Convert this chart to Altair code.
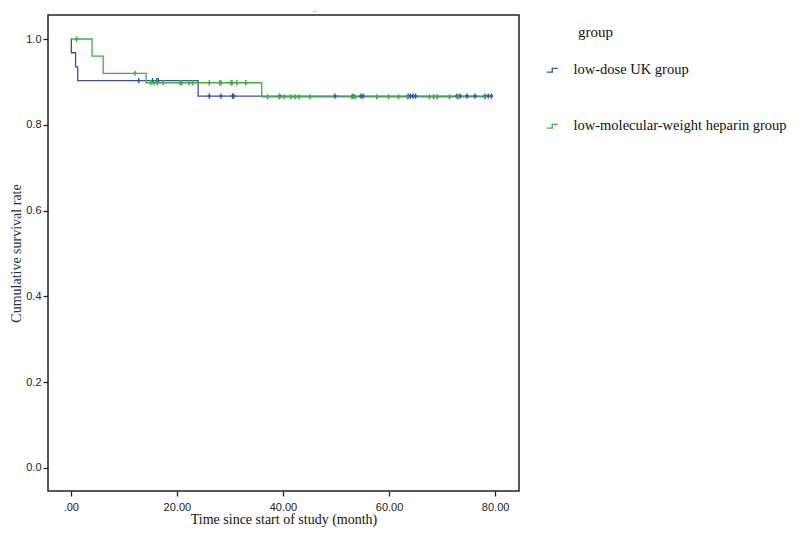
import altair as alt
import pandas as pd

groups = ["low-dose UK group", "low-molecular-weight heparin group"]
colors = ["#3a4bbf", "#3cb043"]

# Kaplan-Meier step points (time, survival)
uk_times = [0.0, 0.1, 0.9, 1.3, 24.0, 79.6]
uk_surv = [1.0, 0.968, 0.935, 0.903, 0.867, 0.867]
lmwh_times = [0.0, 4.0, 6.1, 14.2, 36.0, 78.3]
lmwh_surv = [1.0, 0.960, 0.920, 0.898, 0.865, 0.865]

# censored observation times
uk_censor = [12.8, 15.4, 16.2, 16.5, 26.1, 28.3, 30.5, 30.7, 39.4, 49.8, 53.2, 54.7,
             55.1, 63.6, 64.0, 64.5, 65.0, 72.8, 73.4, 74.7, 76.2, 78.1, 78.7, 79.3]
lmwh_censor = [1.1, 12.1, 15.1, 15.7, 16.3, 17.4, 20.6, 20.9, 22.3, 23.0, 26.1, 28.1,
               28.3, 30.2, 30.4, 31.3, 33.0, 37.1, 39.3, 40.2, 41.5, 42.3, 43.0, 45.1,
               53.0, 53.6, 57.7, 59.9, 61.8, 63.5, 67.6, 68.4, 69.1, 71.4, 73.0, 78.1]

x_ticks = [0, 20, 40, 60, 80]
y_ticks = [0.0, 0.2, 0.4, 0.6, 0.8, 1.0]


def surv_at(times, surv, t):
    s = surv[0]
    for ti, si in zip(times, surv):
        if ti <= t:
            s = si
    return s


rows = []
for g, ts, ss in [(groups[0], uk_times, uk_surv), (groups[1], lmwh_times, lmwh_surv)]:
    for t, s in zip(ts, ss):
        rows.append({"group": g, "t": t, "s": s})
steps = pd.DataFrame(rows)

crows = []
for g, ts, ss, cs in [(groups[0], uk_times, uk_surv, uk_censor),
                      (groups[1], lmwh_times, lmwh_surv, lmwh_censor)]:
    for c in cs:
        crows.append({"group": g, "t": c, "s": surv_at(ts, ss, c)})
cens = pd.DataFrame(crows)

xscale = alt.Scale(domain=[-4.3, 84.5], nice=False, zero=False)
yscale = alt.Scale(domain=[-0.054, 1.056], nice=False, zero=False)
cscale = alt.Scale(domain=groups, range=colors)

xaxis = alt.Axis(values=x_ticks, title="Time since start of study (month)",
                 labelExpr="datum.value == 0 ? '.00' : format(datum.value, '.2f')",
                 grid=False)
yaxis = alt.Axis(values=y_ticks, title="Cumulative survival rate", format=".1f", grid=False)

lines = alt.Chart(steps).mark_line(interpolate="step-after", strokeWidth=1.3).encode(
    x=alt.X("t:Q", scale=xscale, axis=xaxis),
    y=alt.Y("s:Q", scale=yscale, axis=yaxis),
    color=alt.Color("group:N", scale=cscale, sort=groups,
                    legend=alt.Legend(title=None, orient="none", legendX=497, legendY=48,
                                      symbolType="M-1,0.35L0,0.35L0,-0.35L1,-0.35",
                                      symbolSize=120, symbolStrokeWidth=1.3,
                                      labelFont="Liberation Serif", labelFontSize=14.5,
                                      labelColor="#111", rowPadding=41, labelOffset=14,
                                      labelLimit=400)),
    order="t:Q",
)

marks = alt.Chart(cens).mark_point(shape="M0,-1L0,1M-0.7,0L0.7,0", size=28,
                                   strokeWidth=1.4, filled=False, opacity=1).encode(
    x=alt.X("t:Q", scale=xscale),
    y=alt.Y("s:Q", scale=yscale),
    color=alt.Color("group:N", scale=cscale, sort=groups, legend=None),
)

legend_title = alt.Chart(pd.DataFrame({"t": ["group"]})).mark_text(
    font="Liberation Serif", fontSize=15, align="left", baseline="middle", color="#111"
).encode(x=alt.value(530), y=alt.value(17), text="t:N")

top_mark = alt.Chart(pd.DataFrame({"t": ["-"]})).mark_text(
    font="Liberation Sans", fontSize=7, color="#666"
).encode(x=alt.value(267), y=alt.value(-4), text="t:N")

chart = alt.layer(lines, marks, legend_title, top_mark).properties(
    width=471, height=476,
    autosize=alt.AutoSizeParams(type="none"),
    padding={"left": 40, "top": 7, "right": 272, "bottom": 37},
).configure_view(
    stroke="#222", strokeWidth=1.5
).configure_axis(
    domain=False, ticks=True, tickColor="#222", tickSize=5, tickWidth=1.3,
    labelFont="Liberation Sans", labelFontSize=11, labelColor="#222",
    titleFont="Liberation Serif", titleFontSize=14, titleFontWeight="normal",
).configure_axisY(
    titleColor="#23304f", titlePadding=2, labelPadding=2
).configure_axisX(
    titleColor="#111", titlePadding=0, labelPadding=5
)

chart.save("out.html", embed_options={"renderer": "svg", "actions": False})
